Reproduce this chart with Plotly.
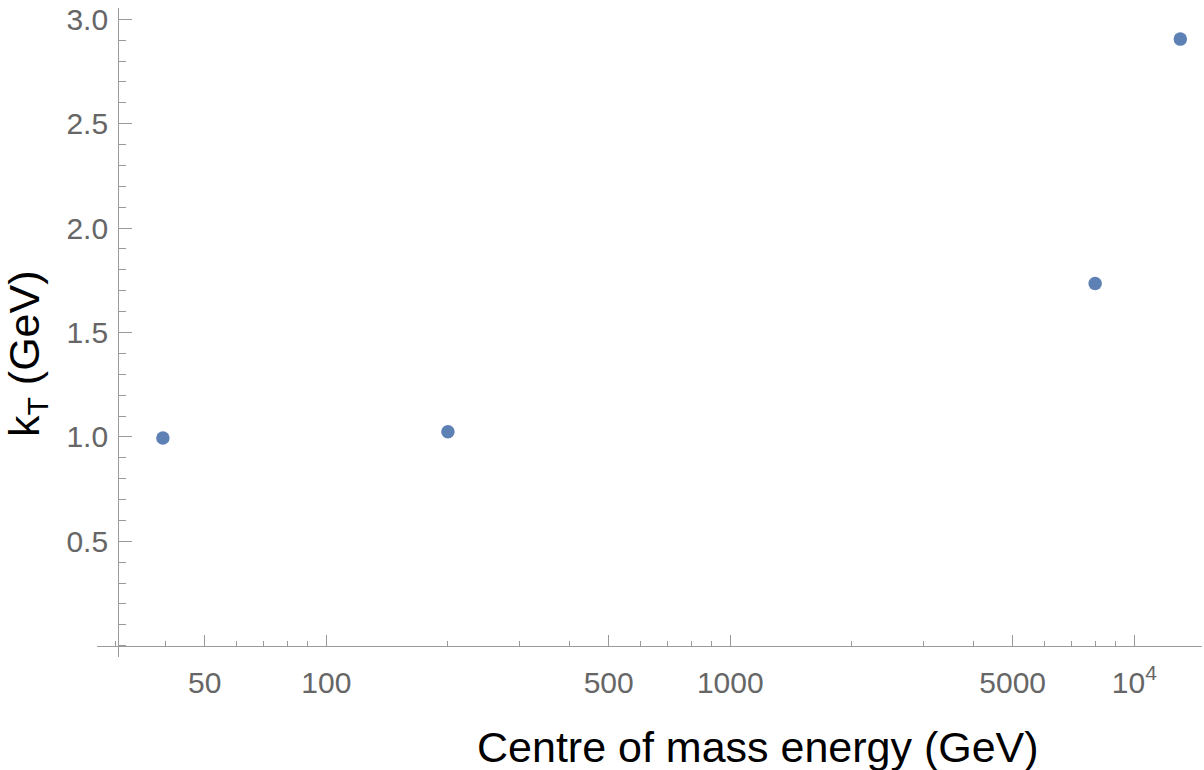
import plotly.graph_objects as go

# Data
energies = [39.4, 200, 8000, 13000]        # centre of mass energy (GeV)
kt_values = [0.995, 1.025, 1.735, 2.905]   # k_T (GeV)

x_tick_vals = [50, 100, 500, 1000, 5000, 10000]
x_tick_text = ["50", "100", "500", "1000", "5000", "10<sup>4</sup>"]
x_minor_vals = [30, 40, 60, 70, 80, 90, 200, 300, 400, 600, 700, 800, 900,
                2000, 3000, 4000, 6000, 7000, 8000, 9000]
y_tick_vals = [0.5, 1.0, 1.5, 2.0, 2.5, 3.0]
y_tick_text = ["0.5", "1.0", "1.5", "2.0", "2.5", "3.0"]

AXIS_COLOR = "#9a9a9a"
LABEL_COLOR = "#666666"
FONT = "Liberation Sans, Arial, sans-serif"

W, H = 1204, 770
L, R, T, B = 97, 2, 8, 113

fig = go.Figure()
fig.add_trace(go.Scatter(
    x=energies, y=kt_values, mode="markers",
    marker=dict(size=13.5, color="#5E81B5", line=dict(width=0)),
    showlegend=False,
))

x_lo, x_hi = 1.4324, 4.1676
y_lo, y_hi = -0.054, 3.054
# axis crossing positions in paper coords
y_axis_pos = (118.3 - L) / (W - L - R)
x_axis_pos = (0 - y_lo) / (y_hi - y_lo)

fig.update_layout(
    width=W, height=H,
    margin=dict(l=L, r=R, t=T, b=B),
    paper_bgcolor="white", plot_bgcolor="white",
    font=dict(family=FONT, color=LABEL_COLOR),
    xaxis=dict(
        type="log", range=[x_lo, x_hi],
        showgrid=False, zeroline=False,
        showline=True, linecolor=AXIS_COLOR, linewidth=1.3,
        anchor="free", position=x_axis_pos,
        tickmode="array", tickvals=x_tick_vals, ticktext=x_tick_text,
        ticks="inside", ticklen=11, tickwidth=1.3, tickcolor=AXIS_COLOR,
        tickfont=dict(size=30, color=LABEL_COLOR, family=FONT),
        ticklabelstandoff=10,
        minor=dict(tickmode="array", tickvals=x_minor_vals, ticks="inside",
                   ticklen=5, tickwidth=1.2, tickcolor=AXIS_COLOR, showgrid=False),
    ),
    yaxis=dict(
        range=[y_lo, y_hi],
        showgrid=False, zeroline=False,
        showline=True, linecolor=AXIS_COLOR, linewidth=1.3,
        anchor="free", position=y_axis_pos,
        tickmode="array", tickvals=y_tick_vals, ticktext=y_tick_text,
        ticks="inside", ticklen=13, tickwidth=1.3, tickcolor=AXIS_COLOR,
        tickfont=dict(size=30, color=LABEL_COLOR, family=FONT),
        ticklabelstandoff=4,
        minor=dict(dtick=0.1, tick0=0, ticks="inside",
                   ticklen=7, tickwidth=1.2, tickcolor=AXIS_COLOR, showgrid=False),
    ),
    annotations=[
        dict(text="Centre of mass energy (GeV)", xref="paper", yref="paper",
             x=(757.5 - L) / (W - L - R), y=(H - B - 747) / (H - T - B),
             xanchor="center", yanchor="middle", showarrow=False,
             font=dict(size=43, color="black", family=FONT)),
        dict(text="k<sub>T</sub> (GeV)", xref="paper", yref="paper",
             x=(27 - L) / (W - L - R), y=(H - B - 354) / (H - T - B),
             xanchor="center", yanchor="middle", showarrow=False, textangle=-90,
             font=dict(size=43, color="black", family=FONT)),
    ],
)

fig.write_html("out.html")
